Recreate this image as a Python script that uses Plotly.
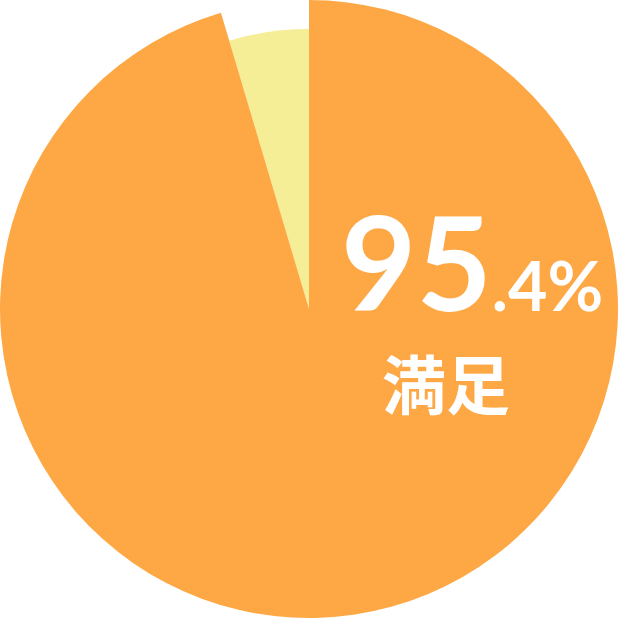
import plotly.graph_objects as go

# satisfaction survey result
labels = ["満足", "その他"]
values = [95.4, 4.6]

orange = "#FEA845"
yellow = "#F6EE96"

fig = go.Figure()

# smaller yellow slice sits underneath
fig.add_trace(go.Pie(
    labels=labels,
    values=values,
    sort=False,
    direction="clockwise",
    rotation=0,
    marker=dict(colors=["rgba(0,0,0,0)", yellow], line=dict(width=0)),
    textinfo="none",
    hoverinfo="skip",
    domain=dict(x=[0.047, 0.953], y=[0.047, 0.953]),
    showlegend=False,
))

# full-size orange slice
fig.add_trace(go.Pie(
    labels=labels,
    values=values,
    sort=False,
    direction="clockwise",
    rotation=0,
    marker=dict(colors=[orange, "rgba(0,0,0,0)"], line=dict(width=0)),
    textinfo="none",
    hoverinfo="skip",
    domain=dict(x=[0, 1], y=[0, 1]),
    showlegend=False,
))

whole, frac = f"{values[0]:.1f}".split(".")
fig.add_annotation(
    x=0.548, y=0.448, xref="paper", yref="paper",
    xanchor="left", yanchor="bottom",
    text=f"{whole}<span style='font-size:68px'>.{frac}%</span>",
    showarrow=False,
    font=dict(family="Lato", size=130, color="white", weight="bold"),
)
fig.add_annotation(
    x=0.722, y=0.383, xref="paper", yref="paper",
    xanchor="center", yanchor="middle",
    text=labels[0],
    showarrow=False,
    font=dict(family="Noto Sans CJK JP", size=64, color="white", weight="bold"),
)

fig.update_layout(
    width=618, height=618,
    margin=dict(l=0, r=0, t=0, b=0),
    paper_bgcolor="white",
    plot_bgcolor="white",
)

fig.write_html("out.html", config={"displayModeBar": False},
               post_script="document.body.style.margin='0';")
